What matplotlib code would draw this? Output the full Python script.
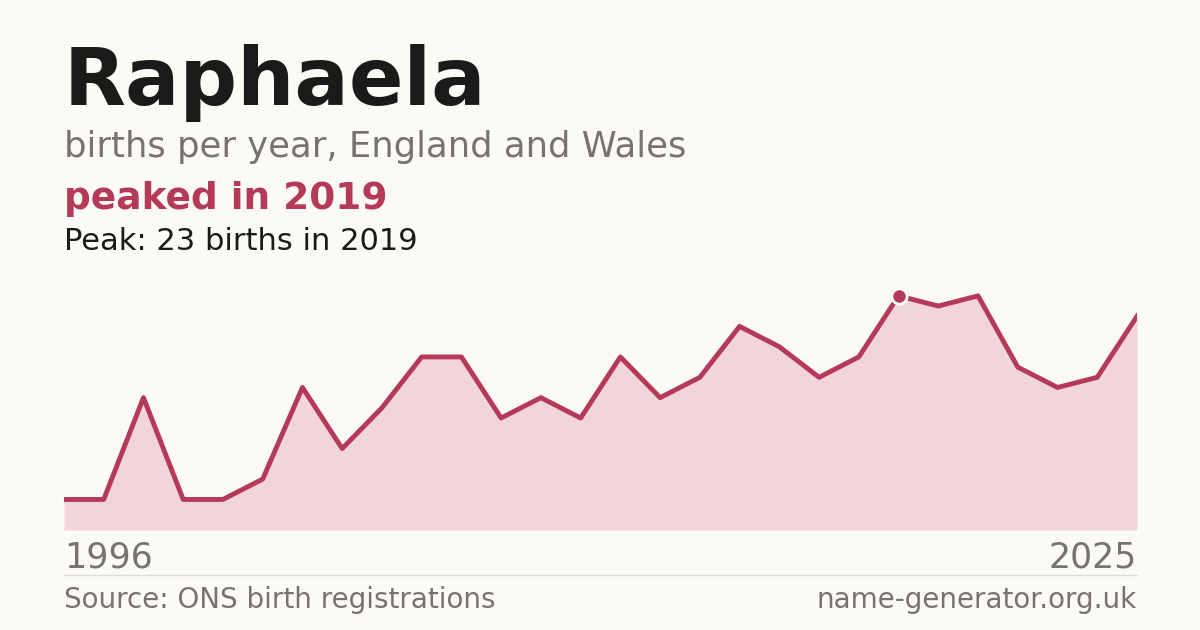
import matplotlib
matplotlib.use("Agg")
import matplotlib.pyplot as plt
plt.rcParams['font.family'] = ['DejaVu Sans']

# years shown (two early years absent in source data; points equally spaced)
labels_years = ["1996", "2025"]
births = [3, 3, 13, 3, 3, 5, 14, 8, 12, 17, 17, 11, 13, 11, 17, 13, 15, 20, 18, 15, 17, 23, 22, 23, 16, 14, 15, 21]
peak_index = 21
peak_year = 2019

RED = "#b5395a"
FILL = "#f2d5db"
BG = "#fbfaf5"
GRAY = "#77736e"

fig = plt.figure(figsize=(12, 6.3), dpi=100, facecolor=BG)
ax = fig.add_axes([64/1200, 1-530/630, (1137-64)/1200, (530-290)/630])
ax.set_facecolor(BG)
x = list(range(len(births)))
ax.fill_between(x, births, 0, color=FILL, lw=0)
ax.plot(x, births, color=RED, lw=3.5)
ax.plot([peak_index], [births[peak_index]], "o", ms=11, color=RED, mec="white", mew=2, zorder=5)
ax.set_xlim(0, len(births)-1)
ax.set_ylim(0, max(births)*1.025)
ax.axis("off")

fig.text(64/1200, 1-83/630, "Raphaela", fontsize=58, fontweight="bold", color="#1a1a1a", va="center")
fig.text(64/1200, 1-147/630, "births per year, England and Wales", fontsize=25.5, color=GRAY, va="center")
fig.text(64/1200, 1-199/630, f"peaked in {peak_year}", fontsize=27, fontweight="bold", color=RED, va="center")
fig.text(64/1200, 1-242/630, f"Peak: {max(births)} births in {peak_year}", fontsize=22, color="#1a1a1a", va="center")
fig.text(64/1200, 1-557/630, labels_years[0], fontsize=25, color=GRAY, va="center")
fig.text(1137/1200, 1-557/630, labels_years[1], fontsize=25, color=GRAY, va="center", ha="right")
fig.add_artist(plt.Line2D([64/1200, 1137/1200], [1-575/630]*2, color="#e0ddd6", lw=1))
fig.text(64/1200, 1-600/630, "Source: ONS birth registrations", fontsize=20, color=GRAY, va="center")
fig.text(1137/1200, 1-600/630, "name-generator.org.uk", fontsize=20, color=GRAY, va="center", ha="right")

fig.savefig("out.png", dpi=100, facecolor=BG)
